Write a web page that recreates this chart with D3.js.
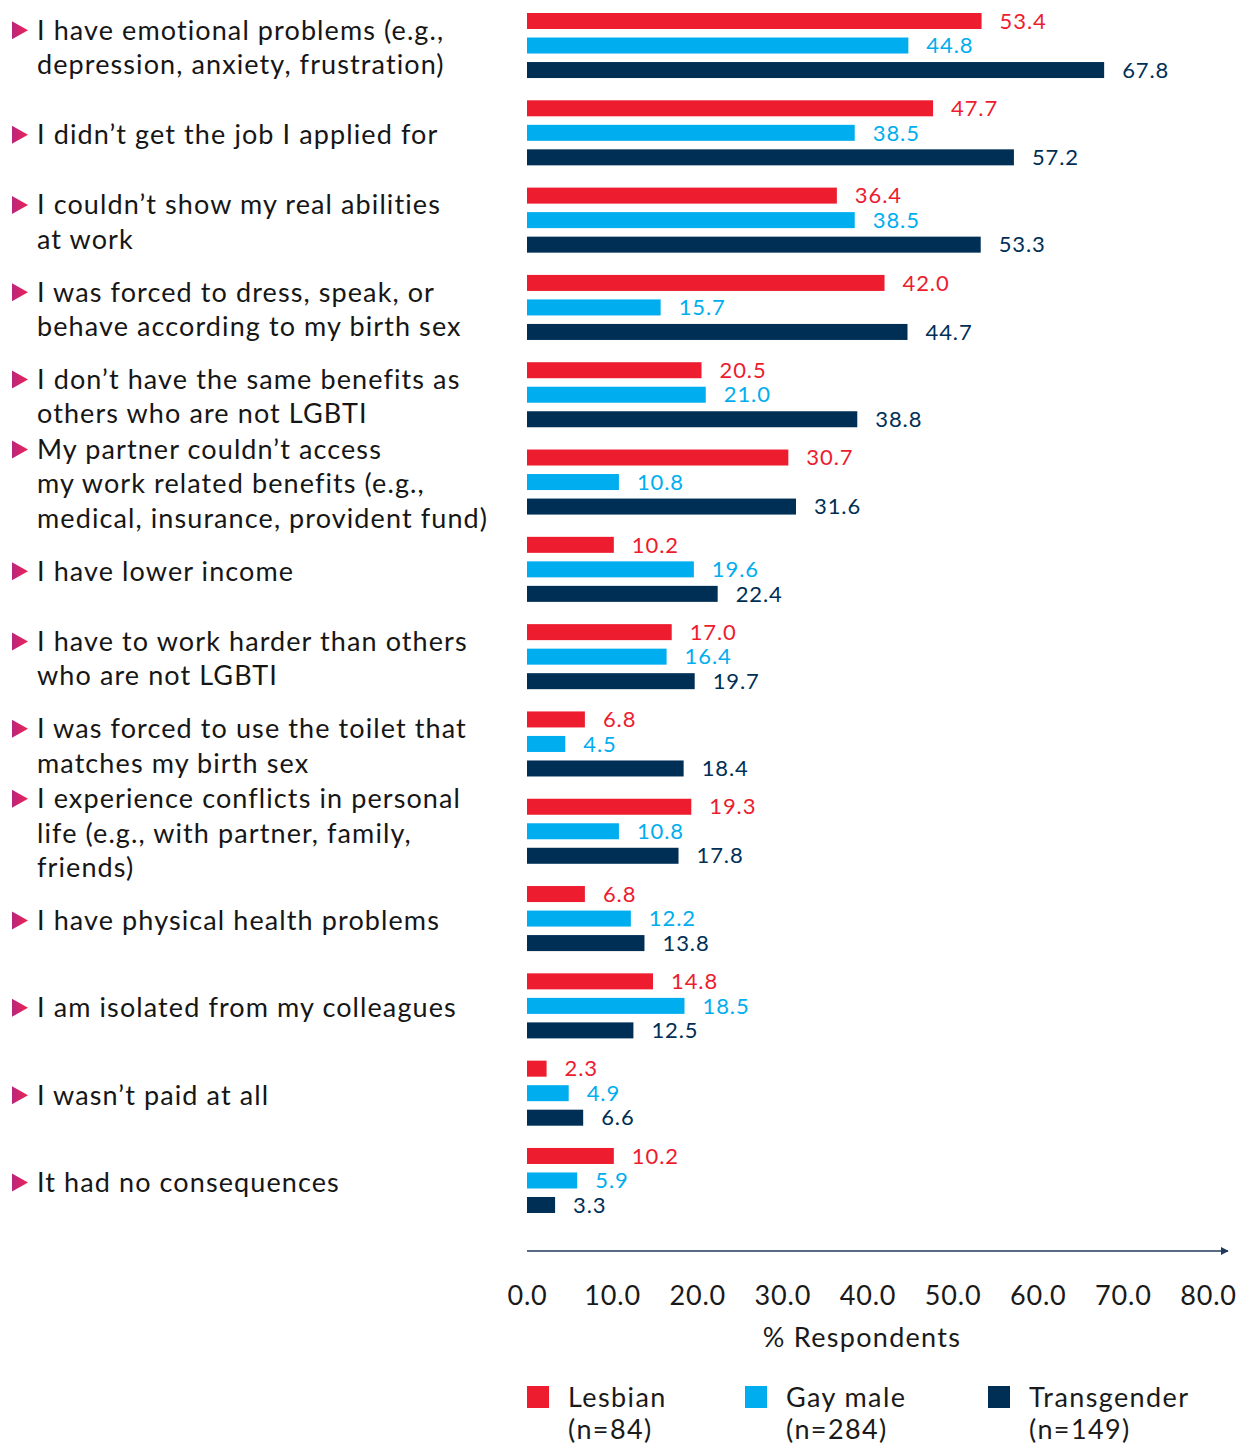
<!DOCTYPE html>
<html>
<head>
<meta charset="utf-8">
<script src="https://cdn.jsdelivr.net/npm/d3@7/dist/d3.min.js"></script>
<style>
  html, body { margin: 0; padding: 0; background: #fff; }
  svg { display: block; }
  text { font-family: Lato, "Open Sans", sans-serif; }
</style>
</head>
<body>
<div id="chart"></div>
<script>
// Consequences of discrimination at work, by group (% respondents)
const categories = [
  ["I have emotional problems (e.g.,", "depression, anxiety, frustration)"],
  ["I didn\u2019t get the job I applied for"],
  ["I couldn\u2019t show my real abilities", "at work"],
  ["I was forced to dress, speak, or", "behave according to my birth sex"],
  ["I don\u2019t have the same benefits as", "others who are not LGBTI"],
  ["My partner couldn\u2019t access", "my work related benefits (e.g.,", "medical, insurance, provident fund)"],
  ["I have lower income"],
  ["I have to work harder than others", "who are not LGBTI"],
  ["I was forced to use the toilet that", "matches my birth sex"],
  ["I experience conflicts in personal", "life (e.g., with partner, family,", "friends)"],
  ["I have physical health problems"],
  ["I am isolated from my colleagues"],
  ["I wasn\u2019t paid at all"],
  ["It had no consequences"]
];

const seriesNames = ["Lesbian", "Gay male", "Transgender"];
const seriesSizes = ["(n=84)", "(n=284)", "(n=149)"];
const seriesColors = ["#ED1C2E", "#00AEEF", "#002F56"];

const lesbian     = [53.4, 47.7, 36.4, 42.0, 20.5, 30.7, 10.2, 17.0, 6.8, 19.3, 6.8, 14.8, 2.3, 10.2];
const gayMale     = [44.8, 38.5, 38.5, 15.7, 21.0, 10.8, 19.6, 16.4, 4.5, 10.8, 12.2, 18.5, 4.9, 5.9];
const transgender = [67.8, 57.2, 53.3, 44.7, 38.8, 31.6, 22.4, 19.7, 18.4, 17.8, 13.8, 12.5, 6.6, 3.3];

const tickValues = [0, 10, 20, 30, 40, 50, 60, 70, 80];

const seriesValues = [lesbian, gayMale, transgender];

const W = 1251, H = 1447;
const svg = d3.select("#chart").append("svg").attr("width", W).attr("height", H);

const defs = svg.append("defs");
const grad = defs.append("linearGradient").attr("id", "markerGrad")
  .attr("x1", "0%").attr("x2", "100%").attr("y1", "0%").attr("y2", "0%");
grad.append("stop").attr("offset", "0%").attr("stop-color", "#B8267E");
grad.append("stop").attr("offset", "100%").attr("stop-color", "#EE2352");

const x = d3.scaleLinear().domain([0, 80]).range([527, 1208]);

const idx = d3.range(categories.length);
const y = d3.scaleBand().domain(idx).range([13, 1213]).paddingInner(0.255).paddingOuter(0);
const ySub = d3.scaleBand().domain(d3.range(3)).range([0, y.bandwidth()]).paddingInner(0.347).paddingOuter(0);

// Bars and value labels
const groups = svg.append("g").selectAll("g").data(idx).join("g")
  .attr("transform", i => `translate(0,${y(i)})`);

groups.each(function(i) {
  const g = d3.select(this);
  seriesValues.forEach((vals, s) => {
    const v = vals[i];
    g.append("rect")
      .attr("x", x(0))
      .attr("y", ySub(s))
      .attr("width", x(v) - x(0))
      .attr("height", ySub.bandwidth())
      .attr("fill", seriesColors[s]);
    g.append("text")
      .attr("x", x(v) + 18)
      .attr("y", ySub(s) + ySub.bandwidth() / 2)
      .attr("dy", "0.35em")
      .attr("fill", seriesColors[s])
      .style("font-size", "22px")
      .style("letter-spacing", "0.9px")
      .text(v.toFixed(1));
  });
});

// Category labels with triangle markers
const lineH = 34.5;
const labels = svg.append("g").selectAll("g").data(idx).join("g");
labels.each(function(i) {
  const g = d3.select(this);
  const lines = categories[i];
  const cy = y(i) + y.bandwidth() / 2 + 2;
  const firstY = cy - (lines.length - 1) * lineH / 2;
  g.append("path")
    .attr("d", `M12,${firstY - 9} L28,${firstY} L12,${firstY + 9} Z`)
    .attr("fill", "url(#markerGrad)");
  lines.forEach((t, k) => {
    g.append("text")
      .attr("x", 37)
      .attr("y", firstY + k * lineH)
      .attr("dy", "0.35em")
      .attr("fill", "#161616")
      .style("font-size", "27px")
      .style("letter-spacing", "1.1px")
      .text(t);
  });
});

// Axis with arrow
defs.append("marker").attr("id", "arrow")
  .attr("viewBox", "0 0 10 10").attr("refX", 9).attr("refY", 5)
  .attr("markerWidth", 6).attr("markerHeight", 6).attr("orient", "auto")
  .append("path").attr("d", "M0,0 L10,5 L0,10 Z").attr("fill", "#1F3A5A");

svg.append("line")
  .attr("x1", x(0)).attr("x2", 1228)
  .attr("y1", 1251).attr("y2", 1251)
  .attr("stroke", "#1F3A5A").attr("stroke-width", 1.3)
  .attr("marker-end", "url(#arrow)");

const axis = d3.axisBottom(x).tickValues(tickValues).tickFormat(d => d.toFixed(1)).tickSize(0).tickPadding(0);
const axisG = svg.append("g").attr("transform", "translate(0,1296)").call(axis);
axisG.select(".domain").remove();
axisG.selectAll("text")
  .attr("y", 0).attr("dy", "0.35em")
  .attr("fill", "#1a1a1a")
  .style("font-size", "27px")
  .style("letter-spacing", "0.8px")
  .style("font-family", "Lato, 'Open Sans', sans-serif");

svg.append("text")
  .attr("x", 862).attr("y", 1338).attr("dy", "0.35em")
  .attr("text-anchor", "middle")
  .attr("fill", "#1a1a1a")
  .style("font-size", "27px")
  .style("letter-spacing", "1.3px")
  .text("% Respondents");

// Legend
const legendX = [527, 745, 988];
const legend = svg.append("g").selectAll("g").data(d3.range(3)).join("g")
  .attr("transform", s => `translate(${legendX[s]},1386)`);
legend.append("rect").attr("width", 22).attr("height", 22).attr("fill", s => seriesColors[s]);
legend.append("text").attr("x", 41).attr("y", 12).attr("dy", "0.35em")
  .attr("fill", "#1a1a1a").style("font-size", "27px").style("letter-spacing", "1.4px")
  .text(s => seriesNames[s]);
legend.append("text").attr("x", 41).attr("y", 44).attr("dy", "0.35em")
  .attr("fill", "#1a1a1a").style("font-size", "27px").style("letter-spacing", "1.4px")
  .text(s => seriesSizes[s]);
</script>
</body>
</html>
